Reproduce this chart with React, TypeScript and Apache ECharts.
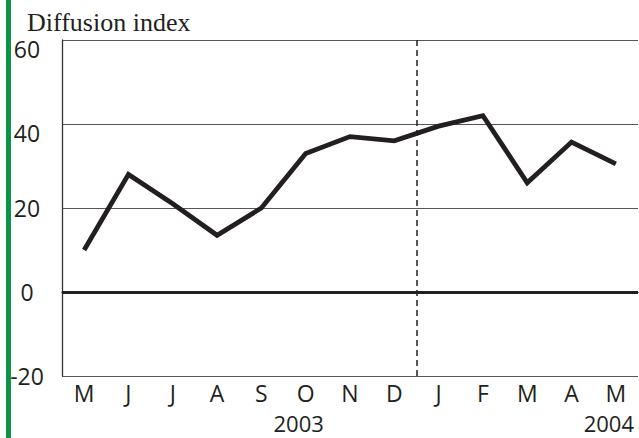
import React, { useEffect, useRef } from "react";
import * as echarts from "echarts";

const months = ["M", "J", "J", "A", "S", "O", "N", "D", "J", "F", "M", "A", "M"];
const values = [10, 28, 21, 13.5, 20, 33, 37, 36, 39.5, 42, 26, 35.7, 30.5];
const yearIndex = [5, 12];
const yearLabels = ["2003", "2004"];
const yMin = -20;
const yMax = 60;
const yStep = 20;
const yearBreak = 7.5; // between Dec 2003 and Jan 2004 (in category-index units)
const titleText = "Diffusion index";

const INK = "#231f20";
const SANS = "Open Sans";

export default function App() {
  const ref = useRef<HTMLDivElement>(null);
  useEffect(() => {
    if (!ref.current) return;
    const chart = echarts.init(ref.current, undefined, { renderer: "svg" });
    const gridBox = { left: 62, right: 1, top: 40, bottom: 62, containLabel: false, outerBoundsMode: "none" };
    chart.setOption({
      animation: false,
      backgroundColor: "#ffffff",
      title: {
        text: titleText,
        left: 22,
        top: 4,
        textStyle: {
          fontFamily: "Liberation Serif",
          fontWeight: "normal",
          fontSize: 26,
          color: INK,
        },
      },
      graphic: [
        {
          type: "rect",
          shape: { x: 6, y: 0, width: 5, height: 438 },
          style: { fill: "#0a9447" },
          silent: true,
        },
      ],
      grid: [{ ...gridBox }, { ...gridBox }],
      xAxis: [
        {
          type: "category",
          gridIndex: 0,
          data: months,
          boundaryGap: true,
          axisLine: { show: true, lineStyle: { color: "#333", width: 1.3 } },
          axisTick: { show: false },
          splitLine: { show: false },
          axisLabel: {
            interval: 0,
            margin: 5,
            fontFamily: SANS,
            fontSize: 23,
            color: INK,
          },
        },
        {
          type: "category",
          gridIndex: 0,
          data: months,
          position: "bottom",
          offset: 30,
          boundaryGap: true,
          axisLine: { show: false },
          axisTick: { show: false },
          splitLine: { show: false },
          axisLabel: {
            interval: 0,
            margin: 8,
            fontFamily: SANS,
            fontSize: 22,
            lineHeight: 18,
            color: INK,
            formatter: (_v: string, i: number) => {
              const k = yearIndex.indexOf(i);
              return k >= 0 ? `{y|${yearLabels[k]}}` : "";
            },
            rich: {
              y: {
                fontFamily: SANS,
                fontSize: 22,
                lineHeight: 18,
                color: INK,
                padding: [0, 14, 0, 0],
              },
            },
          },
        },
        {
          type: "value",
          gridIndex: 1,
          min: -0.5,
          max: months.length - 0.5,
          show: false,
          splitLine: { show: false },
        },
      ],
      yAxis: [
        {
          type: "value",
          gridIndex: 0,
          min: yMin,
          max: yMax,
          interval: yStep,
          axisLine: { show: true, onZero: false, lineStyle: { color: "#333", width: 1.3 } },
          axisTick: { show: false },
          splitLine: { show: true, lineStyle: { color: "#555", width: 1.2 } },
          axisLabel: {
            margin: 35,
            align: "center",
            fontFamily: SANS,
            fontSize: 23,
            color: INK,
            formatter: (v: number) => (v >= 40 ? `{d|${v}}` : `{n|${v}}`),
            rich: {
              d: { fontFamily: SANS, fontSize: 23, color: INK, padding: [17, 0, 0, 0] },
              n: { fontFamily: SANS, fontSize: 23, color: INK },
            },
          },
        },
        {
          type: "value",
          gridIndex: 1,
          min: yMin,
          max: yMax,
          interval: yStep,
          show: false,
          splitLine: { show: false },
        },
      ],
      series: [
        {
          type: "line",
          data: values,
          xAxisIndex: 0,
          yAxisIndex: 0,
          showSymbol: false,
          symbol: "none",
          lineStyle: { color: INK, width: 4.8, join: "miter" },
          z: 5,
          markLine: {
            silent: true,
            symbol: "none",
            label: { show: false },
            data: [{ yAxis: 0, lineStyle: { color: INK, width: 3, type: "solid" } }],
          },
        },
        {
          type: "line",
          data: [],
          xAxisIndex: 2,
          yAxisIndex: 1,
          showSymbol: false,
          markLine: {
            silent: true,
            symbol: "none",
            label: { show: false },
            data: [{ xAxis: yearBreak, lineStyle: { color: INK, width: 1.5, type: [6, 4] } }],
          },
        },
      ],
    });
    return () => chart.dispose();
  }, []);
  return (
    <div
      ref={ref}
      style={{ position: "fixed", left: 0, top: 0, width: 639, height: 438 }}
    />
  );
}
